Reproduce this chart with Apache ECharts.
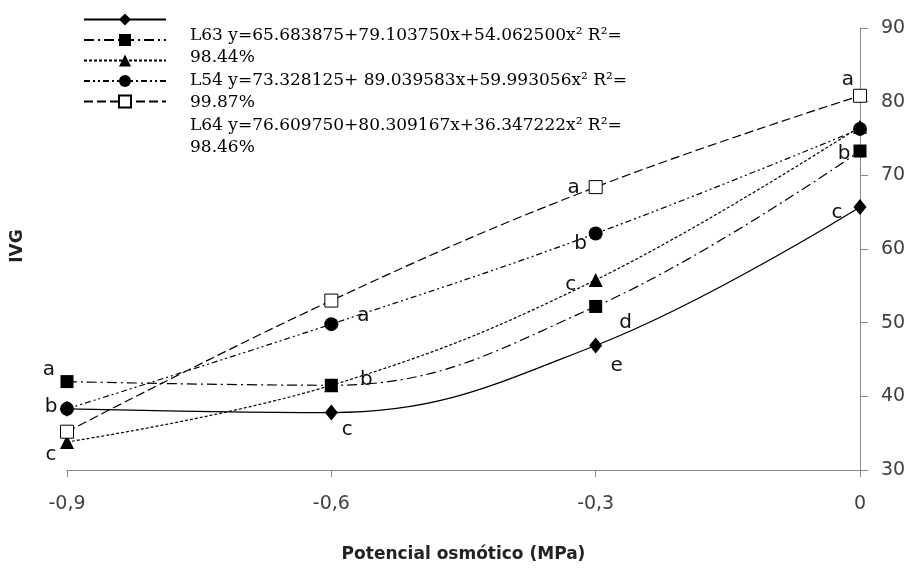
<!DOCTYPE html>
<html lang="pt">
<head>
    <meta charset="UTF-8">
    <title>IVG</title>
    <style>
        html, body { margin: 0; padding: 0; background: #fff; }
    </style>
</head>
<body>
<div id="main" style="width:914px;height:573px;"></div>
<script src="https://cdn.jsdelivr.net/npm/echarts@6/dist/echarts.min.js"></script>
<script>
    // potencial osmótico (MPa)
    var potencial = [-0.9, -0.6, -0.3, 0];

    // IVG
    var L63 = [38.3, 37.8, 46.9, 65.7];      // losango
    var L54 = [42.0, 41.5, 52.2, 73.3];      // quadrado cheio
    var L64 = [33.8, 41.5, 55.8, 76.6];      // triângulo
    var serie4 = [38.3, 49.8, 62.1, 76.3];   // círculo
    var serie5 = [35.2, 53.0, 68.4, 80.8];   // quadrado vazio

    // letras (teste de médias)
    var letrasL63 = ['', 'c', 'e', 'c'];
    var letrasL54 = ['a', 'b', 'd', 'b'];
    var letrasL64 = ['c', '', 'c', ''];
    var letras4 = ['b', 'a', 'b', ''];
    var letras5 = ['', '', 'a', 'a'];

    var yTicks = [30, 40, 50, 60, 70, 80, 90];

    var equacoes = [
        'L63 y=65.683875+79.103750x+54.062500x² R²=',
        '98.44%',
        'L54 y=73.328125+ 89.039583x+59.993056x² R²=',
        '99.87%',
        'L64 y=76.609750+80.309167x+36.347222x² R²=',
        '98.46%'
    ];

    // deslocamento das letras em px (só aparência)
    var offL63 = [[0, 0], [16, 17], [21, 20], [-23, 6]];
    var offL54 = [[-18, -12], [35, -5], [30, 16], [-16, 3]];
    var offL64 = [[-16, 13], [0, 0], [-25, 5], [0, 0]];
    var off4 = [[-16, -2], [32, -8], [-15, 10], [0, 0]];
    var off5 = [[0, 0], [0, 0], [-22, 1], [-12, -16]];

    function pontos(vals, letras, offs) {
        return vals.map(function (v, i) {
            return {
                value: [potencial[i], v],
                label: {
                    show: letras[i] !== '',
                    formatter: letras[i],
                    position: 'inside',
                    offset: offs[i],
                    fontFamily: 'DejaVu Sans',
                    fontSize: 20,
                    color: '#111'
                }
            };
        });
    }

    var myChart = echarts.init(document.getElementById('main'));

    var option = {
        backgroundColor: '#fff',
        animation: false,
        grid: {
            left: 67,
            right: 54,
            top: 28,
            bottom: 103
        },
        legend: {
            orient: 'vertical',
            left: 78,
            top: 7,
            itemWidth: 82,
            itemHeight: 15,
            itemGap: 7,
            selectedMode: false,
            formatter: function () { return ''; },
            data: ['L63', 'L54', 'L64', 'Série 4', 'Série 5']
        },
        graphic: [
            {
                type: 'text',
                left: 190,
                top: 24,
                style: {
                    text: equacoes.join('\n'),
                    font: '17px "DejaVu Serif"',
                    lineHeight: 22.5,
                    fill: '#000'
                }
            },
            {
                type: 'text',
                x: 18,
                y: 246,
                rotation: Math.PI / 2,
                style: {
                    text: 'IVG',
                    font: 'bold 17px "DejaVu Sans"',
                    fill: '#222',
                    align: 'center',
                    verticalAlign: 'middle'
                }
            }
        ],
        xAxis: {
            type: 'value',
            min: -0.9,
            max: 0,
            interval: 0.3,
            name: 'Potencial osmótico (MPa)',
            nameLocation: 'middle',
            nameGap: 76,
            nameTextStyle: {
                fontFamily: 'DejaVu Sans',
                fontWeight: 'bold',
                fontSize: 17,
                color: '#222'
            },
            axisLine: { onZero: false, lineStyle: { color: '#888', width: 1 } },
            axisTick: { inside: false, length: 7, lineStyle: { color: '#888' } },
            splitLine: { show: false },
            axisLabel: {
                margin: 25,
                fontFamily: 'DejaVu Sans',
                fontSize: 19,
                color: '#404040',
                formatter: function (v) {
                    var n = Number(v.toFixed(1));
                    return n === 0 ? '0' : String(n).replace('.', ',');
                }
            }
        },
        yAxis: {
            type: 'value',
            position: 'right',
            min: yTicks[0],
            max: yTicks[yTicks.length - 1],
            interval: 10,
            axisLine: { show: true, lineStyle: { color: '#888', width: 1 } },
            axisTick: { show: true, inside: false, length: 8, lineStyle: { color: '#888' } },
            splitLine: { show: false },
            axisLabel: {
                margin: 21,
                fontFamily: 'DejaVu Sans',
                fontSize: 19,
                color: '#404040'
            }
        },
        series: [
            {
                name: 'L63',
                type: 'line',
                smooth: 0.4,
                symbol: 'diamond',
                symbolSize: [13, 16],
                itemStyle: { color: '#000' },
                lineStyle: { color: '#000', width: 1.3, type: 'solid' },
                data: pontos(L63, letrasL63, offL63)
            },
            {
                name: 'L54',
                type: 'line',
                smooth: 0.4,
                symbol: 'rect',
                symbolSize: 13,
                itemStyle: { color: '#000' },
                lineStyle: { color: '#000', width: 1.2, type: [10, 4, 2, 4] },
                data: pontos(L54, letrasL54, offL54)
            },
            {
                name: 'L64',
                type: 'line',
                smooth: 0.4,
                symbol: 'triangle',
                symbolSize: 14,
                itemStyle: { color: '#000' },
                lineStyle: { color: '#000', width: 1.2, type: [3, 2] },
                data: pontos(L64, letrasL64, offL64)
            },
            {
                name: 'Série 4',
                type: 'line',
                smooth: 0.4,
                symbol: 'circle',
                symbolSize: 14,
                itemStyle: { color: '#000' },
                lineStyle: { color: '#000', width: 1.2, type: [6, 3, 2, 3, 2, 3] },
                data: pontos(serie4, letras4, off4)
            },
            {
                name: 'Série 5',
                type: 'line',
                smooth: 0.4,
                symbol: 'rect',
                symbolSize: 13,
                itemStyle: { color: '#fff', borderColor: '#000', borderWidth: 1 },
                lineStyle: { color: '#000', width: 1.2, type: [9, 4] },
                data: pontos(serie5, letras5, off5)
            }
        ]
    };

    myChart.setOption(option);
</script>
</body>
</html>
